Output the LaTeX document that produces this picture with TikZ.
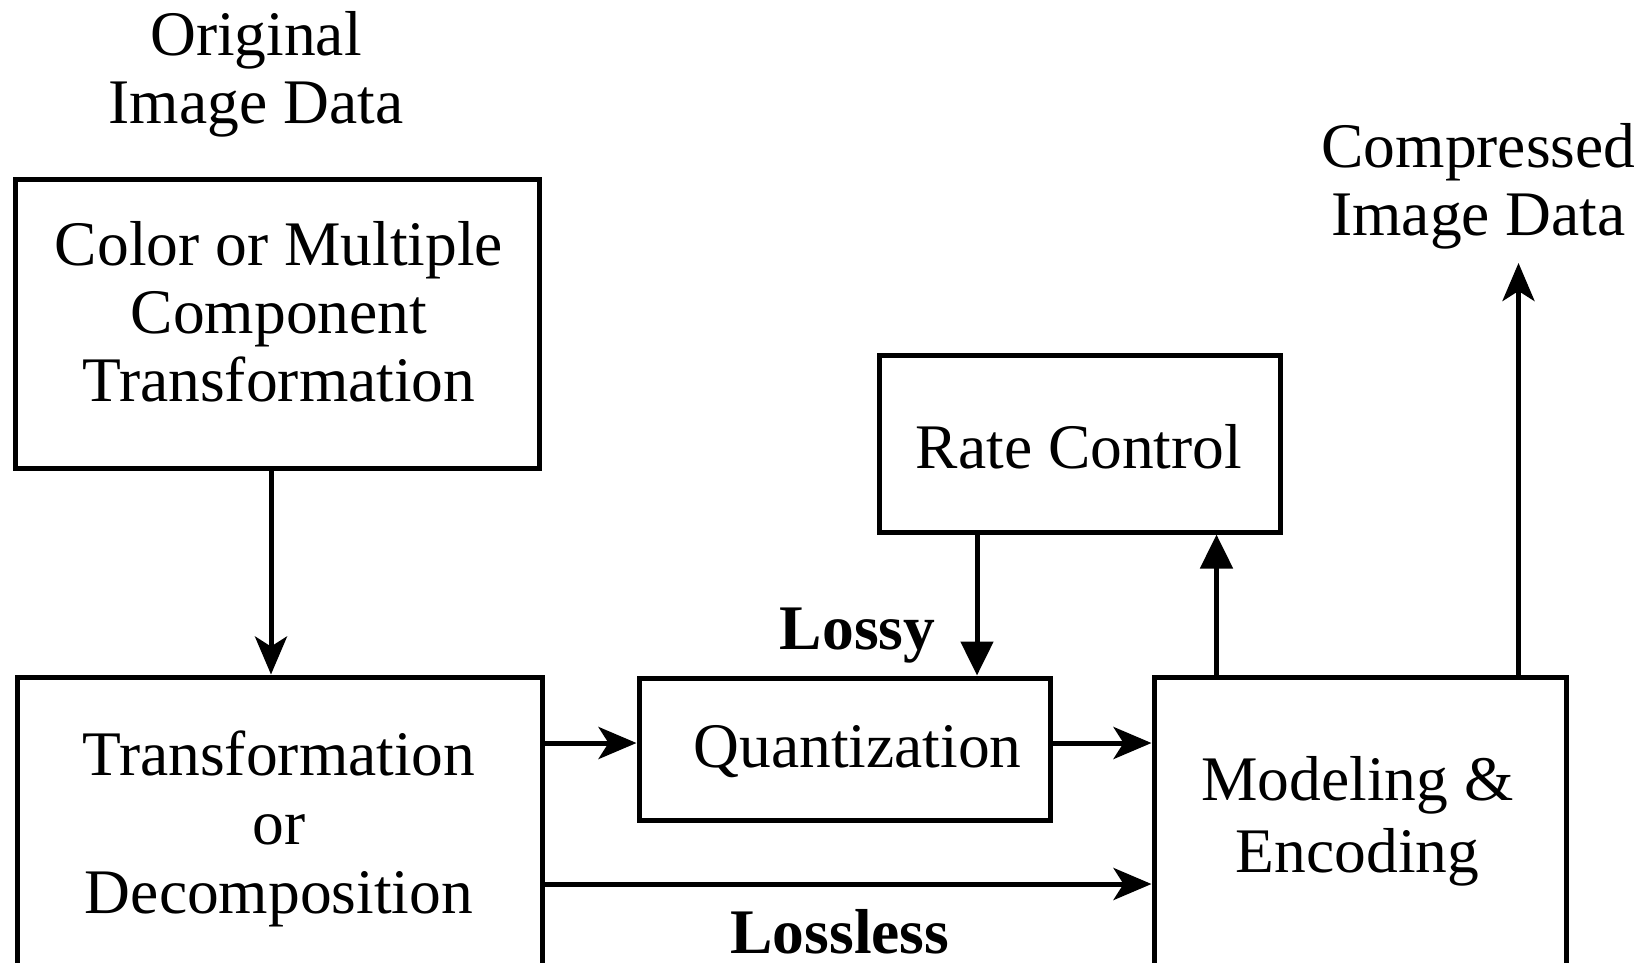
\documentclass[tikz,border=0pt]{standalone}
\usepackage{fontspec}
\setmainfont{Liberation Serif}
\usetikzlibrary{arrows.meta,calc}
\begin{document}
\begin{tikzpicture}[x=1pt,y=-1pt,
  blk/.style={draw=black,line width=5pt,inner sep=0pt,rectangle},
  txt/.style={align=center,inner sep=0pt,font=\fontsize{63.5}{68}\selectfont},
  btxt/.style={txt,font=\fontsize{63.5}{68}\selectfont\bfseries},
  arr/.style={line width=5pt,-{Stealth[length=38pt,width=32pt,inset=10pt]}},
  tarr/.style={line width=5pt,-{Triangle[length=34pt,width=32pt]}}]
\clip (0,0) rectangle (1650,962);
% boxes
\node[blk,minimum width=524pt,minimum height=289pt] (cmt) at (277,323.5) {};
\node[blk,minimum width=525pt,minimum height=294pt] (tod) at (279.5,824) {};
\node[blk,minimum width=411pt,minimum height=142pt] (quant) at (844.5,749) {};
\node[blk,minimum width=401pt,minimum height=177pt] (rate) at (1079.5,443.5) {};
\node[blk,minimum width=412pt,minimum height=300pt] (model) at (1360,827) {};
% texts
\node[txt] (orig) at (256,74) {Original\\Image Data};
\node[txt] (cmttext) at (279,312) {Color or Multiple\\Component\\Transformation};
\node[txt,font=\fontsize{63.5}{69}\selectfont] (todtext) at (279,829) {Transformation\\or\\Decomposition};
\node[txt] (quanttext) at (857.6,752) {Quantization};
\node[txt] (ratetext) at (1079,447) {Rate Control};
\node[txt,font=\fontsize{63.5}{72}\selectfont] (modeltext) at (1357.5,821) {Modeling \&\\Encoding};
\node[txt] (comp) at (1478.5,186.5) {Compressed\\Image Data};
\node[btxt] (lossy) at (857.6,636) {Lossy};
\node[btxt] (lossless) at (840,931.5) {Lossless};
% connectors
\coordinate (out) at (1518.5,263);
\draw[arr] (cmt.south -| 271,0) -- (tod.north -| 271,0);
\draw[arr] (tod.east |- 0,743) -- (quant.west |- 0,743);
\draw[arr] (tod.east |- 0,884) -- (model.west |- 0,884);
\draw[arr] (quant.east |- 0,743) -- (model.west |- 0,743);
\draw[tarr] (rate.south -| 977,0) -- (quant.north -| 977,0);
\draw[tarr] (model.north -| 1216.5,0) -- (rate.south -| 1216.5,0);
\draw[arr] (model.north -| out) -- (out);
\end{tikzpicture}
\end{document}
